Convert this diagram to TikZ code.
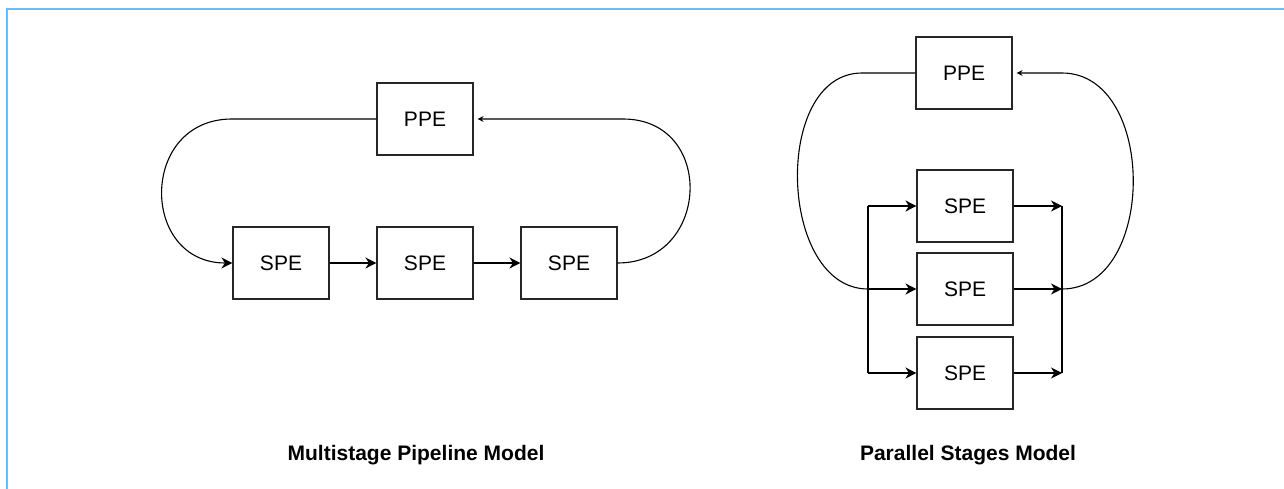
\documentclass[tikz,border=0pt]{standalone}
\usepackage{fontspec}
\setmainfont{Liberation Sans}
\usetikzlibrary{arrows.meta}
\usetikzlibrary{positioning}
\definecolor{frameblue}{RGB}{102,190,255}
\colorlet{boxline}{black!85}

\begin{document}
\begin{tikzpicture}[x=1pt,y=-1pt,
		every node/.style={
			font=\fontsize{21}{25}\selectfont
		},
		pe/.style={draw=boxline, line width=1.1pt, minimum width=96pt, minimum height=72pt, inner sep=0pt},
		link/.style={line width=1.1pt},
		flow/.style={link, -{Stealth[length=11pt,width=11pt,inset=3.5pt]}},
		back/.style={link, -{Stealth[length=6pt,width=6pt,inset=2pt]}, shorten >=4pt},
		title/.style={font=\fontsize{21}{25}\selectfont\bfseries}
	]

	\useasboundingbox (0,0) rectangle (1284,489);
	\draw[frameblue, line width=2.2pt] (7,489) -- (7,9) -- (1284,9);

	% multistage pipeline
	\node[pe] (ppe1) at (425,119) {PPE};
	\foreach \i/\x in {1/281,2/425,3/569}{
		\node[pe] (spe\i) at (\x,263) {SPE};
	}
	\foreach \i [count=\j from 2] in {1,2}{
		\draw[flow] (spe\i) -- (spe\j);
	}

	\coordinate (turnL) at (232,119);
	\coordinate (turnR) at (623,119);
	\draw[flow] (ppe1.west) -- (turnL) .. controls +(-93,0) and +(-93,0) .. (spe1.west);
	\draw[back] (spe3.east) .. controls +(93,0) and +(93,0) .. (turnR) -- (ppe1.east);

	\node[title] (lblPipe) at (416,455) {Multistage Pipeline Model};

	% parallel stages
	\node[pe] (ppe2) at (964,73) {PPE};
	\foreach \i/\y in {1/206,2/289,3/373}{
		\node[pe] (par\i) at (965,\y) {SPE};
	}

	\coordinate (fork) at (868,289);
	\coordinate (join) at (1062,289);
	\draw[link] (fork |- par1) -- (fork |- par3);
	\draw[link] (join |- par1) -- (join |- par3);
	\foreach \i in {1,2,3}{
		\draw[flow] (fork |- par\i) -- (par\i.west);
		\draw[flow] (par\i.east) -- (join |- par\i);
	}

	\coordinate (turnP) at (862,73);
	\draw[link] (ppe2.west) -- (turnP) .. controls +(-90,0) and +(-90,0) .. (fork);
	\draw[back] (join) .. controls +(95,0) and +(95,0) .. (join |- ppe2) -- (ppe2.east);

	\node[title] (lblPar) at (968,455) {Parallel Stages Model};

\end{tikzpicture}
\end{document}
